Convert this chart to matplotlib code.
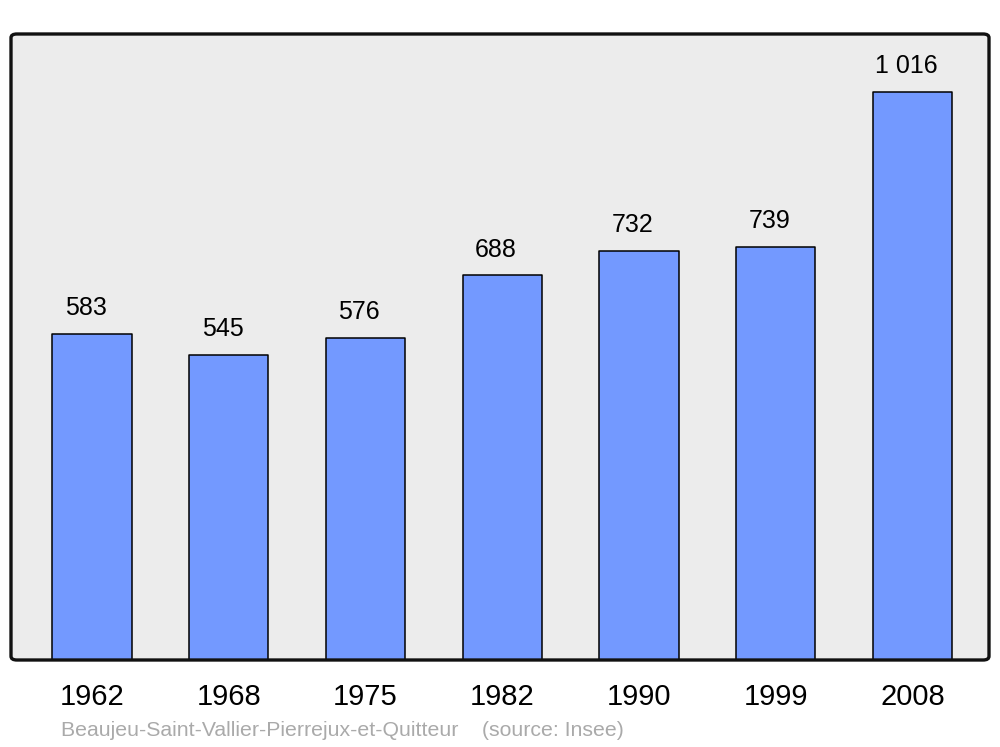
import numpy as np
import matplotlib.pyplot as plt
from matplotlib.patches import FancyBboxPatch

# data
years = ['1962', '1968', '1975', '1982', '1990', '1999', '2008']
population = [583, 545, 576, 688, 732, 739, 1016]
labels = ['583', '545', '576', '688', '732', '739', '1 016']

plt.rcParams['font.family'] = ['Liberation Sans', 'DejaVu Sans']

fig = plt.figure(figsize=(10, 7.47), dpi=100)
ax = fig.add_axes([0.011, 1 - 660 / 747, 0.978, (660 - 34) / 747])
ax.set_facecolor('#ececec')

x = np.arange(len(years))
bars = ax.bar(x, population, width=0.58, color='#7399ff', edgecolor='black',
              linewidth=1.1, joinstyle='round', zorder=2)

for xi, v, lab in zip(x, population, labels):
    ax.annotate(lab, (xi, v), xytext=(-4.5, 10), textcoords='offset points',
                ha='center', va='bottom', fontsize=18)

ax.set_xlim(-0.593, 6.56)
ax.set_ylim(0, 1120)
ax.set_xticks(x)
ax.set_xticklabels(years, fontsize=21)
ax.tick_params(axis='x', length=0, pad=16.5)
ax.set_yticks([])
for s in ax.spines.values():
    s.set_visible(False)

# rounded frame
frame = FancyBboxPatch((0, 0), 1, 1, boxstyle='round,pad=0,rounding_size=0.006',
                       transform=ax.transAxes, fill=False, edgecolor='#111111',
                       linewidth=2.4, clip_on=False, zorder=5)
ax.add_patch(frame)

fig.text(0.061, 1 - 730 / 747, 'Beaujeu-Saint-Vallier-Pierrejux-et-Quitteur    (source: Insee)',
         fontsize=15.3, color='#aaaaaa', va='center', ha='left')

fig.savefig('out.png', dpi=100)
